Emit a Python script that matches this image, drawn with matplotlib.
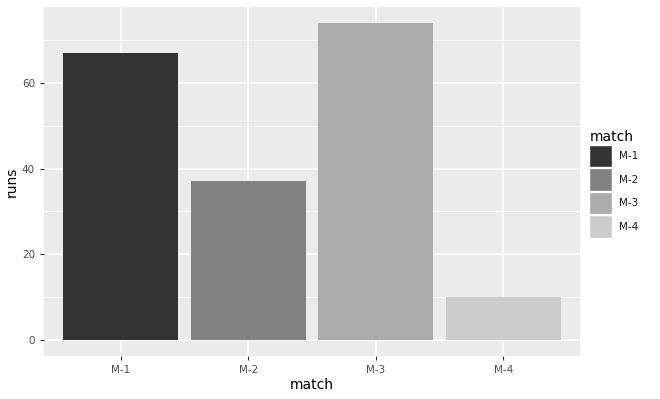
import matplotlib
matplotlib.use("Agg")
import matplotlib.pyplot as plt
from matplotlib.patches import Patch

# data
matches = ["M-1", "M-2", "M-3", "M-4"]
runs = [67, 37, 74, 10]
fills = ["#333333", "#818181", "#ABABAB", "#CCCCCC"]

fig = plt.figure(figsize=(6.6, 3.99), dpi=100)
ax = fig.add_axes([0.0667, 0.108, 0.812, 0.8745])

x = range(1, len(matches) + 1)
ax.bar(x, runs, width=0.9, color=fills, zorder=3)

# ggplot-like look
ax.set_facecolor("#EBEBEB")
ax.set_xlim(0.4, 4.6)
ax.set_ylim(-0.05 * max(runs), 1.05 * max(runs))
ax.set_xticks(list(x))
ax.set_xticklabels(matches)
ax.set_yticks([0, 20, 40, 60])
ax.set_yticks([10, 30, 50, 70], minor=True)
ax.grid(which="major", color="white", linewidth=1.1, zorder=0)
ax.grid(which="minor", axis="y", color="white", linewidth=0.5, zorder=0)
for s in ax.spines.values():
    s.set_visible(False)
ax.tick_params(which="major", colors="#333333", labelcolor="#4D4D4D",
               labelsize=7.5, length=3, width=0.8)
ax.tick_params(which="minor", length=0)
ax.set_xlabel("match", fontsize=10, color="black", labelpad=2)
ax.set_ylabel("runs", fontsize=10, color="black", labelpad=2)

handles = [Patch(facecolor=c, edgecolor="white", linewidth=1) for c in fills]
leg = fig.legend(handles, matches, title="match", loc="upper left",
                 bbox_to_anchor=(0.893, 0.675), frameon=False,
                 fontsize=7.5, title_fontsize=10, handlelength=2.2,
                 handleheight=2.95, labelspacing=0.1, handletextpad=0.6,
                 borderaxespad=0, borderpad=0)
leg._legend_box.align = "left"
for t in leg.get_texts():
    t.set_color("#1A1A1A")

fig.savefig("out.png", dpi=100)
